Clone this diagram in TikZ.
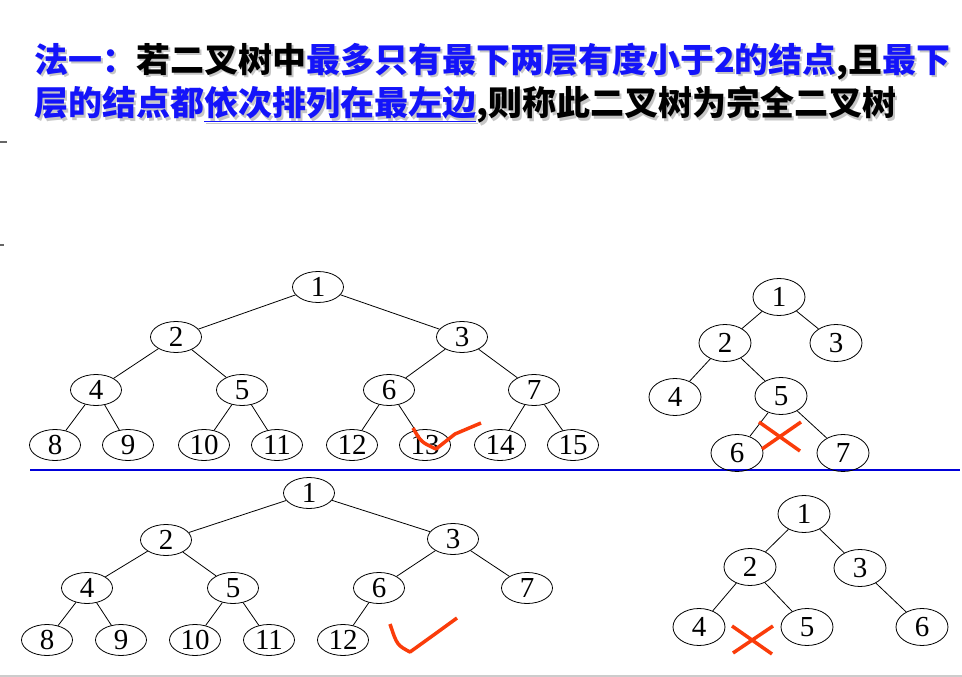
\documentclass[tikz,border=0pt]{standalone}
\usepackage{fontspec}
\setmainfont{Liberation Serif}
\newfontfamily\cjk{Noto Sans CJK SC}
\usetikzlibrary{shapes.geometric}

\definecolor{hlblue}{RGB}{20,20,250}
\definecolor{markred}{RGB}{250,60,10}
\colorlet{hlcolor}{hlblue}
\colorlet{txcolor}{black}
\newcommand\hl[1]{\textcolor{hlcolor}{#1}}
\newcommand\tx[1]{\textcolor{txcolor}{#1}}
\newcommand\lineone{\hl{法一：}\tx{若二叉树中}\hl{最多只有最下两层有度小于2的结点}\tx{,且}\hl{最下}}
\newcommand\linetwo{\hl{层的结点都}\hl{\underline{依次排列在最左边}}\tx{,则称此二叉树为完全二叉树}}
% grey copy behind the text
\newcommand\shadowed[1]{\rlap{\kern2pt\raisebox{-2pt}{\colorlet{hlcolor}{gray!45}\colorlet{txcolor}{gray!45}#1}}#1}

\tikzset{
  tnode/.style={draw, ellipse, line width=.8pt, minimum width=51pt, minimum height=31pt,
    inner sep=0pt, font=\fontsize{29}{30}\selectfont},
  tnodeb/.style={tnode, minimum width=52pt, minimum height=37pt},
  tedge/.style={line width=.8pt},
  redmark/.style={markred, line width=3.5pt, line join=round},
  title/.style={anchor=base west, inner sep=0pt, font=\cjk\bfseries\fontsize{34}{40}\selectfont},
}

\begin{document}
\begin{tikzpicture}[x=1pt, y=-1pt]
\useasboundingbox (0,0) rectangle (962,677);

% title
\node[title] (t1) at (34,73) {\shadowed{\lineone}};
\node[title] (t2) at (34,116) {\shadowed{\linetwo}};

% side ticks and rules
\draw[line width=1.2pt, gray!80!black] (0,142) -- (7,142);
\draw[line width=1.2pt, gray!80!black] (0,245) -- (4,245);
\draw[blue!85!black, line width=1.2pt] (30,470) -- (960,470);
\draw[gray!40, line width=1.5pt] (0,676) -- (962,676);

% tree a: full
\node[tnode] (a1) at (318,287) {1};
\node[tnode] (a2) at (176,337) {2};
\node[tnode] (a3) at (462,337) {3};
\foreach \n/\x in {4/96,5/242,6/389,7/534}
  \node[tnode] (a\n) at (\x,390) {\n};
\foreach \n/\x in {8/55,9/128,10/204,11/277,12/352,13/425,14/500,15/573}
  \node[tnode] (a\n) at (\x,445) {\n};
\foreach \p/\c in {1/2,1/3,2/4,2/5,3/6,3/7,4/8,4/9,5/10,5/11,6/12,6/13,7/14,7/15}
  \draw[tedge] (a\p) -- (a\c);
\draw[redmark] (413,428) .. controls (421,442) .. (436,449) -- (455,434) -- (481,423);

% tree b
\node[tnodeb] (b1) at (779,297) {1};
\node[tnodeb] (b2) at (725,343) {2};
\node[tnodeb] (b3) at (836,343) {3};
\node[tnodeb] (b4) at (675,397) {4};
\node[tnodeb] (b5) at (781,396) {5};
\node[tnodeb] (b6) at (737,453) {6};
\node[tnodeb] (b7) at (843,453) {7};
\foreach \p/\c in {1/2,1/3,2/4,2/5,5/6,5/7}
  \draw[tedge] (b\p) -- (b\c);
\draw[redmark] (759,422) -- (800,451);
\draw[redmark] (762,449) -- (801,422);

% tree c
\node[tnode] (c1) at (309,493) {1};
\node[tnode] (c2) at (166,540) {2};
\node[tnode] (c3) at (453,539) {3};
\foreach \n/\x in {4/87,5/233,6/379,7/527}
  \node[tnode] (c\n) at (\x,588) {\n};
\foreach \n/\x in {8/47,9/121,10/195,11/269,12/343}
  \node[tnode] (c\n) at (\x,640) {\n};
\foreach \p/\c in {1/2,1/3,2/4,2/5,3/6,3/7,4/8,4/9,5/10,5/11,6/12}
  \draw[tedge] (c\p) -- (c\c);
\draw[redmark] (390,624) .. controls (397,645) .. (410,652) -- (435,634) -- (457,618);

% tree d
\node[tnodeb] (d1) at (804,514) {1};
\node[tnodeb] (d2) at (750,567) {2};
\node[tnodeb] (d3) at (860,568) {3};
\node[tnodeb] (d4) at (699,627) {4};
\node[tnodeb] (d5) at (807,627) {5};
\node[tnodeb] (d6) at (922,627) {6};
\foreach \p/\c in {1/2,1/3,2/4,2/5,3/6}
  \draw[tedge] (d\p) -- (d\c);
\draw[redmark] (732,626) -- (772,654);
\draw[redmark] (733,653) -- (773,626);

\end{tikzpicture}
\end{document}
